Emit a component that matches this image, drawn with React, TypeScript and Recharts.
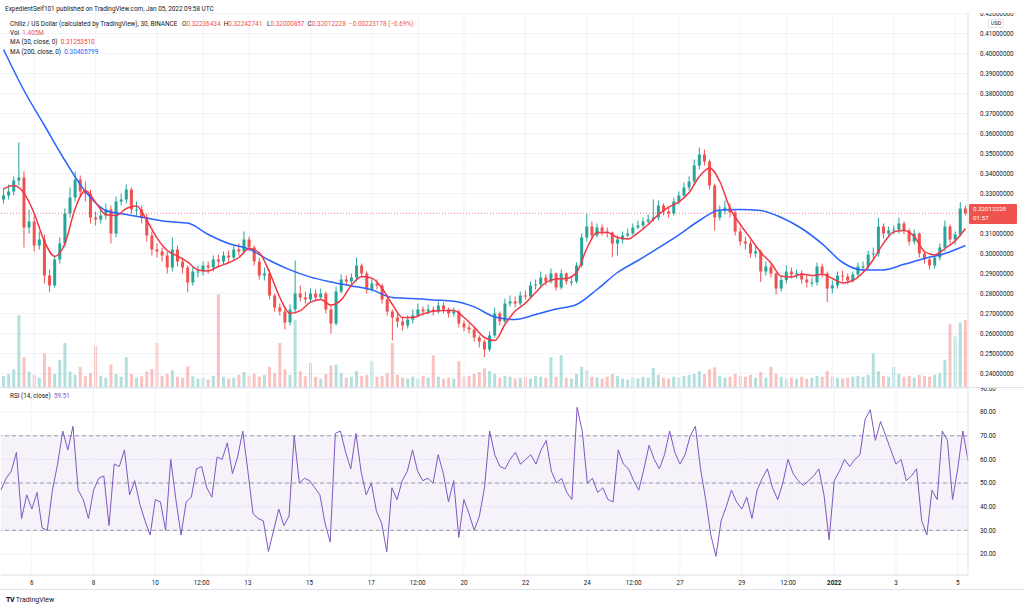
import { ComposedChart, Bar, Line, XAxis, YAxis, CartesianGrid, ReferenceLine, ReferenceArea } from 'recharts';

const FONT = 'Roboto, "Noto Sans", sans-serif';
const UP = '#26a69a';
const DOWN = '#ef5350';
const GRID = '#f0f3fa';
const BORDER = '#e0e3eb';
const TEXT = '#131722';
const MA30_COLOR = '#f23645';
const MA200_COLOR = '#2962ff';
const RSI_COLOR = '#7e57c2';

// 4h candles, Dec 5 2021 -> Jan 5 2022
const firstOpen = 0.327;
const closes = [
  0.3290, 0.3310, 0.3365, 0.3380, 0.3130, 0.3160, 0.3040, 0.3070, 0.2890, 0.2840, 0.2970, 0.3050,
  0.3200, 0.3280, 0.3370, 0.3310, 0.3300, 0.3180, 0.3170, 0.3190, 0.3220, 0.3100, 0.3260, 0.3270,
  0.3320, 0.3220, 0.3220, 0.3180, 0.3090, 0.3020, 0.3010, 0.2990, 0.2930, 0.3020, 0.2960, 0.2930,
  0.2855, 0.2910, 0.2910, 0.2940, 0.2930, 0.2970, 0.2960, 0.2990, 0.2980, 0.3020, 0.3010, 0.3070,
  0.3030, 0.2960, 0.2890, 0.2900, 0.2790, 0.2730, 0.2710, 0.2655, 0.2720, 0.2800, 0.2780, 0.2770,
  0.2800, 0.2780, 0.2800, 0.2720, 0.2650, 0.2810, 0.2870, 0.2860, 0.2880, 0.2940, 0.2900, 0.2820,
  0.2850, 0.2840, 0.2770, 0.2710, 0.2680, 0.2660, 0.2640, 0.2670, 0.2690, 0.2720, 0.2710, 0.2720,
  0.2710, 0.2740, 0.2720, 0.2700, 0.2710, 0.2650, 0.2630, 0.2620, 0.2580, 0.2560, 0.2520, 0.2590,
  0.2700, 0.2660, 0.2750, 0.2760, 0.2750, 0.2790, 0.2785, 0.2840, 0.2845, 0.2880, 0.2860, 0.2900,
  0.2830, 0.2900, 0.2860, 0.2860, 0.2940, 0.3080, 0.3135, 0.3090, 0.3130, 0.3110, 0.3105, 0.3050,
  0.3070, 0.3090, 0.3100, 0.3130, 0.3140, 0.3160, 0.3170, 0.3180, 0.3240, 0.3210, 0.3200, 0.3260,
  0.3290, 0.3330, 0.3360, 0.3440, 0.3495, 0.3460, 0.3340, 0.3180, 0.3215, 0.3230, 0.3205, 0.3110,
  0.3060, 0.3050, 0.3000, 0.3010, 0.2910, 0.2935, 0.2900, 0.2825, 0.2867, 0.2910, 0.2895, 0.2900,
  0.2870, 0.2855, 0.2855, 0.2935, 0.2900, 0.2825, 0.2840, 0.2890, 0.2885, 0.2865, 0.2895, 0.2935,
  0.2935, 0.2995, 0.3000, 0.3135, 0.3100, 0.3115, 0.3120, 0.3150, 0.3115, 0.3060, 0.3100, 0.3000,
  0.2970, 0.2940, 0.2980, 0.3030, 0.3135, 0.3070, 0.3095, 0.3225, 0.3201,
];
const highs = [
  0.3325, 0.3345, 0.3385, 0.3555, 0.3410, 0.3220, 0.3200, 0.3110, 0.3095, 0.2920, 0.2990, 0.3080,
  0.3225, 0.3330, 0.3410, 0.3390, 0.3360, 0.3320, 0.3210, 0.3230, 0.3250, 0.3240, 0.3285, 0.3300,
  0.3345, 0.3330, 0.3260, 0.3240, 0.3200, 0.3110, 0.3050, 0.3030, 0.3010, 0.3080, 0.3040, 0.2980,
  0.2940, 0.2935, 0.2940, 0.2960, 0.2960, 0.2990, 0.2995, 0.3010, 0.3015, 0.3040, 0.3050, 0.3110,
  0.3085, 0.3040, 0.2980, 0.2930, 0.2920, 0.2800, 0.2750, 0.2730, 0.2745, 0.2965, 0.2840, 0.2810,
  0.2825, 0.2820, 0.2825, 0.2810, 0.2740, 0.2835, 0.2895, 0.2890, 0.2900, 0.2980, 0.2950, 0.2910,
  0.2875, 0.2870, 0.2850, 0.2785, 0.2720, 0.2700, 0.2680, 0.2690, 0.2720, 0.2750, 0.2735, 0.2745,
  0.2735, 0.2760, 0.2755, 0.2730, 0.2730, 0.2720, 0.2665, 0.2650, 0.2630, 0.2590, 0.2570, 0.2610,
  0.2730, 0.2710, 0.2775, 0.2790, 0.2785, 0.2810, 0.2815, 0.2860, 0.2870, 0.2910, 0.2895, 0.2925,
  0.2905, 0.2920, 0.2905, 0.2885, 0.2955, 0.3100, 0.3200, 0.3160, 0.3150, 0.3145, 0.3130, 0.3110,
  0.3090, 0.3110, 0.3125, 0.3150, 0.3165, 0.3180, 0.3195, 0.3270, 0.3265, 0.3250, 0.3230, 0.3280,
  0.3310, 0.3355, 0.3385, 0.3470, 0.3530, 0.3520, 0.3470, 0.3350, 0.3240, 0.3265, 0.3250, 0.3215,
  0.3130, 0.3085, 0.3065, 0.3040, 0.3020, 0.2960, 0.2950, 0.2905, 0.2885, 0.2940, 0.2930, 0.2920,
  0.2915, 0.2890, 0.2880, 0.2955, 0.2950, 0.2910, 0.2865, 0.2910, 0.2915, 0.2900, 0.2910, 0.2955,
  0.2960, 0.3015, 0.3030, 0.3180, 0.3150, 0.3135, 0.3140, 0.3180, 0.3160, 0.3125, 0.3120, 0.3105,
  0.3010, 0.2985, 0.2995, 0.3050, 0.3165, 0.3145, 0.3110, 0.3257, 0.3240,
];
const lows = [
  0.3250, 0.3270, 0.3290, 0.3340, 0.3030, 0.3100, 0.3010, 0.3020, 0.2850, 0.2807, 0.2830, 0.2950,
  0.3030, 0.3180, 0.3260, 0.3280, 0.3260, 0.3150, 0.3140, 0.3150, 0.3170, 0.3050, 0.3080, 0.3240,
  0.3250, 0.3200, 0.3190, 0.3150, 0.3060, 0.2990, 0.2980, 0.2960, 0.2900, 0.2910, 0.2935, 0.2900,
  0.2807, 0.2840, 0.2880, 0.2890, 0.2900, 0.2910, 0.2935, 0.2945, 0.2955, 0.2960, 0.2990, 0.2995,
  0.3010, 0.2940, 0.2870, 0.2865, 0.2770, 0.2710, 0.2690, 0.2620, 0.2640, 0.2700, 0.2760, 0.2750,
  0.2755, 0.2760, 0.2770, 0.2700, 0.2598, 0.2640, 0.2800, 0.2840, 0.2840, 0.2860, 0.2880, 0.2800,
  0.2810, 0.2820, 0.2750, 0.2690, 0.2565, 0.2630, 0.2615, 0.2625, 0.2650, 0.2680, 0.2690, 0.2695,
  0.2690, 0.2700, 0.2700, 0.2680, 0.2685, 0.2630, 0.2610, 0.2600, 0.2560, 0.2530, 0.2482, 0.2510,
  0.2580, 0.2640, 0.2650, 0.2735, 0.2730, 0.2740, 0.2770, 0.2775, 0.2820, 0.2830, 0.2840, 0.2850,
  0.2815, 0.2820, 0.2845, 0.2840, 0.2850, 0.2930, 0.3060, 0.3070, 0.3080, 0.3090, 0.3080, 0.2982,
  0.2990, 0.3050, 0.3080, 0.3090, 0.3120, 0.3125, 0.3150, 0.3160, 0.3165, 0.3190, 0.3180, 0.3190,
  0.3245, 0.3275, 0.3315, 0.3340, 0.3420, 0.3440, 0.3320, 0.3115, 0.3165, 0.3195, 0.3180, 0.3090,
  0.3040, 0.3020, 0.2980, 0.2980, 0.2857, 0.2890, 0.2880, 0.2795, 0.2810, 0.2850, 0.2875, 0.2875,
  0.2850, 0.2830, 0.2835, 0.2840, 0.2880, 0.2757, 0.2800, 0.2825, 0.2860, 0.2845, 0.2855, 0.2880,
  0.2910, 0.2920, 0.2975, 0.2985, 0.3075, 0.3080, 0.3095, 0.3100, 0.3095, 0.3040, 0.3045, 0.2980,
  0.2950, 0.2920, 0.2925, 0.2965, 0.3010, 0.3050, 0.3045, 0.3085, 0.3190,
];
// volume, millions (peak per bucket)
const volumes = [
  2.5, 3.0, 4.0, 15.5, 6.6, 3.5, 2.8, 2.2, 7.4, 4.5, 3.0, 6.0,
  9.6, 3.5, 2.8, 4.5, 2.5, 3.2, 9.0, 2.6, 2.2, 5.0, 3.0, 2.4,
  6.6, 3.0, 2.2, 2.5, 3.5, 4.0, 9.6, 2.6, 3.0, 3.8, 2.4, 2.2,
  4.6, 2.5, 2.0, 2.2, 1.8, 2.6, 20.0, 2.4, 2.0, 2.2, 2.8, 3.4,
  2.6, 3.0, 2.4, 2.8, 4.5, 3.2, 9.6, 4.0, 2.8, 14.5, 3.6, 2.5,
  5.3, 2.4, 2.0, 3.0, 4.8, 5.0, 3.2, 2.2, 2.4, 3.6, 2.6, 2.8,
  5.7, 2.4, 2.6, 3.2, 9.6, 2.8, 2.2, 2.0, 2.4, 2.0, 2.6, 2.2,
  7.0, 2.4, 2.0, 2.2, 2.0, 5.7, 2.4, 2.6, 3.0, 3.4, 4.2, 3.6,
  3.0, 2.2, 2.6, 2.4, 2.0, 2.2, 2.4, 2.0, 2.6, 2.4, 2.2, 6.6,
  2.4, 7.0, 2.2, 2.0, 3.0, 4.5, 3.8, 2.4, 2.2, 2.0, 2.4, 3.0,
  2.6, 2.0, 1.8, 2.2, 2.0, 2.4, 2.2, 4.3, 2.8, 2.2, 2.0, 2.4,
  2.2, 2.6, 2.8, 3.0, 3.6, 3.0, 4.0, 4.4, 2.6, 2.2, 2.4, 3.0,
  2.6, 2.4, 2.8, 2.2, 3.4, 2.2, 4.5, 3.0, 2.4, 2.0, 2.2, 2.0,
  2.4, 2.0, 2.2, 2.6, 2.4, 3.6, 2.4, 2.2, 2.0, 2.2, 2.4, 2.6,
  2.4, 2.8, 7.4, 3.6, 2.6, 2.4, 4.5, 3.0, 2.4, 2.6, 2.2, 2.8,
  2.6, 2.4, 2.8, 3.2, 6.0, 13.6, 11.0, 14.0, 14.5,
];
const rsiValues = [
  47, 52, 55, 63, 35, 45, 39, 46, 31, 30, 47, 58,
  72, 64, 74, 47, 43, 35, 47, 52, 53, 32, 58, 57,
  64, 45, 51, 41, 34, 28, 43, 42, 30, 60, 43, 28,
  42, 44, 56, 57, 48, 44, 61, 60, 67, 54, 61, 72,
  55, 37, 35, 34, 21, 30, 39, 32, 36, 70, 50, 52,
  51, 48, 45, 33, 25, 71, 72, 63, 56, 71, 55, 45,
  50, 38, 33, 21, 48, 43, 51, 55, 64, 55, 51, 52,
  50, 62, 54, 42, 51, 27, 43, 37, 30, 36, 48, 72,
  62, 57, 56, 60, 63, 58, 60, 62, 58, 64, 68, 55,
  50, 52, 46, 43, 82, 72, 50, 52, 46, 48, 43, 42,
  64, 58, 56, 51, 47, 56, 66, 60, 56, 62, 72, 63,
  58, 62, 70, 74, 56, 43, 28, 19, 34, 40, 47, 42,
  39, 44, 35, 47, 52, 56, 48, 43, 50, 60, 54, 51,
  49, 51, 53, 56, 45, 26, 51, 55, 60, 57, 60, 62,
  77, 81, 68, 76, 70, 64, 58, 60, 51, 53, 56, 34,
  28, 47, 43, 72, 68, 43, 56, 72, 59.51,
];
// MA (30) read every 2nd candle
const ma30 = [
  0.3323, 0.3340, 0.3302, 0.3200, 0.3060, 0.2985, 0.3050, 0.3225, 0.3315, 0.3255, 0.3194, 0.3190,
  0.3225, 0.3237, 0.3165, 0.3077, 0.3015, 0.2987, 0.2957, 0.2918, 0.2913, 0.2935, 0.2954, 0.2980,
  0.3025, 0.3003, 0.2905, 0.2780, 0.2700, 0.2714, 0.2757, 0.2770, 0.2742, 0.2768, 0.2842, 0.2885,
  0.2877, 0.2825, 0.2745, 0.2680, 0.2680, 0.2698, 0.2711, 0.2715, 0.2715, 0.2680, 0.2632, 0.2580,
  0.2565, 0.2645, 0.2712, 0.2752, 0.2805, 0.2855, 0.2873, 0.2875, 0.2905, 0.3025, 0.3105, 0.3105,
  0.3080, 0.3073, 0.3103, 0.3145, 0.3195, 0.3232, 0.3258, 0.3305, 0.3385, 0.3428, 0.3360, 0.3225,
  0.3145, 0.3075, 0.3005, 0.2952, 0.2886, 0.2882, 0.2898, 0.2890, 0.2896, 0.2875, 0.2853, 0.2865,
  0.2905, 0.2970, 0.3052, 0.3108, 0.3115, 0.3085, 0.3010, 0.2993, 0.3025, 0.3063, 0.3125,
];
// MA (200) read every 4th candle
const ma200 = [
  0.4020, 0.3815, 0.3640, 0.3465, 0.3310, 0.3215, 0.3195, 0.3177, 0.3160, 0.3152, 0.3095, 0.3050,
  0.3022, 0.2965, 0.2918, 0.2882, 0.2858, 0.2838, 0.2818, 0.2780, 0.2775, 0.2768, 0.2761, 0.2733,
  0.2683, 0.2670, 0.2695, 0.2722, 0.2745, 0.2820, 0.2905, 0.2965, 0.3028, 0.3093, 0.3165, 0.3218,
  0.3220, 0.3215, 0.3180, 0.3125, 0.3048, 0.2955, 0.2917, 0.2918, 0.2946, 0.2975, 0.3000, 0.3040,
];

const timeTickIdx = [6, 18, 30, 39, 48, 60, 72, 81, 90, 102, 114, 123, 132, 144, 153, 162, 174, 186];
const timeTickLabels = ['6', '8', '10', '12:00', '13', '15', '17', '12:00', '20', '22', '24', '12:00', '27', '29', '12:00', '2022', '3', '5'];
// 0.32 sits under the last-price badge, so it has no label of its own
const priceTicks = [0.24, 0.25, 0.26, 0.27, 0.28, 0.29, 0.3, 0.31, 0.33, 0.34, 0.35, 0.36, 0.37, 0.38, 0.39, 0.4, 0.41, 0.42];
const rsiTicks = [20, 30, 40, 50, 60, 70, 80, 90];
const lastPrice = 0.32012228;

const rows = closes.map((close, i) => {
  const open = i === 0 ? firstOpen : closes[i - 1];
  return {
    i,
    open,
    close,
    high: highs[i],
    low: lows[i],
    range: [lows[i], highs[i]],
    vol: volumes[i],
    rsi: rsiValues[i],
    ma30: i % 2 === 0 ? ma30[i / 2] : null,
    ma200: i % 4 === 0 ? ma200[i / 4] : null,
  };
});

const tickLabelOf: Record<number, string> = {};
timeTickIdx.forEach((t, k) => { tickLabelOf[t] = timeTickLabels[k]; });

function Candle(props: any) {
  const { x, y, width, height, payload } = props;
  if (!payload || height == null) return <g />;
  const { open, close, high, low } = payload;
  const k = height / (high - low);
  const top = y + (high - Math.max(open, close)) * k;
  const bh = Math.max(1, Math.abs(close - open) * k);
  const color = close >= open ? UP : DOWN;
  const cx = x + width / 2;
  return (
    <g>
      <line x1={cx} x2={cx} y1={y} y2={y + height} stroke={color} strokeWidth={1} />
      <rect x={x} y={top} width={width} height={bh} fill={color} />
    </g>
  );
}

function VolBar(props: any) {
  const { x, y, width, height, payload } = props;
  if (!payload || !height) return <g />;
  const color = payload.close >= payload.open ? UP : DOWN;
  return <rect x={x} y={y} width={width} height={height} fill={color} fillOpacity={0.35} />;
}

function TimeTick(props: any) {
  const { x, y, payload } = props;
  const label = tickLabelOf[payload.value];
  if (!label) return <g />;
  return (
    <text x={x} y={y + 8} textAnchor="middle" dominantBaseline="central" fontSize={6.3}
      fontFamily={FONT} fill={TEXT} fontWeight={label === '2022' ? 700 : 400}>
      {label}
    </text>
  );
}

const axisTick = { fontSize: 6.3, fill: TEXT, fontFamily: FONT };

function Legend() {
  const row = { position: 'absolute' as const, left: 10, fontSize: 6.4, lineHeight: '10px', color: TEXT, whiteSpace: 'nowrap' as const };
  const red = { color: DOWN };
  return (
    <>
      <div style={{ ...row, left: 5, top: 4 }}>ExpedientSelf101 published on TradingView.com, Jan 05, 2022 09:58 UTC</div>
      <div style={{ ...row, top: 19 }}>
        Chiliz / US Dollar (calculated by TradingView), 30, BINANCE&nbsp;&nbsp;
        O<span style={red}>0.32236434</span>&nbsp;&nbsp;H<span style={red}>0.32242741</span>&nbsp;&nbsp;
        L<span style={red}>0.32000857</span>&nbsp;&nbsp;C<span style={red}>0.32012228&nbsp;&nbsp;−0.00223178 (−0.69%)</span>
      </div>
      <div style={{ ...row, top: 28 }}>Vol&nbsp;&nbsp;<span style={red}>1.405M</span></div>
      <div style={{ ...row, top: 37 }}>MA (30, close, 0)&nbsp;&nbsp;<span style={{ color: MA30_COLOR }}>0.31253510</span></div>
      <div style={{ ...row, top: 47 }}>MA (200, close, 0)&nbsp;&nbsp;<span style={{ color: MA200_COLOR }}>0.30405799</span></div>
      <div style={{ ...row, top: 391 }}>RSI (14, close)&nbsp;&nbsp;<span style={{ color: RSI_COLOR }}>59.51</span></div>
    </>
  );
}

export default function App() {
  return (
    <div style={{ position: 'absolute', left: 0, top: 0, width: 1024, height: 609, background: '#fff', fontFamily: FONT, overflow: 'hidden' }}>
      {/* price pane: grid, axis, volume */}
      <div style={{ position: 'absolute', left: 0, top: 13 }}>
        <ComposedChart width={1024} height={375} data={rows} margin={{ top: 0, right: 0, bottom: 0, left: 1 }}>
          <CartesianGrid yAxisId="price" vertical={false} stroke={GRID} />
          <XAxis dataKey="i" hide />
          <YAxis yAxisId="price" orientation="right" width={56} domain={[0.23275, 0.42025]} allowDataOverflow
            ticks={priceTicks} interval={0} tickFormatter={(v: number) => v.toFixed(8)} tick={axisTick}
            tickLine={false} tickSize={6} tickMargin={6} axisLine={{ stroke: BORDER }} />
          <YAxis yAxisId="vol" hide domain={[0, 80]} allowDataOverflow />
          {timeTickIdx.map((t) => (
            <ReferenceLine key={t} x={t} yAxisId="price" stroke={GRID} />
          ))}
          <Bar yAxisId="vol" dataKey="vol" barSize={3} shape={VolBar} isAnimationActive={false} />
        </ComposedChart>
      </div>
      {/* price pane: candles and moving averages */}
      <div style={{ position: 'absolute', left: 0, top: 13 }}>
        <ComposedChart width={1024} height={375} data={rows} margin={{ top: 0, right: 56, bottom: 0, left: 1 }}>
          <XAxis dataKey="i" hide />
          <YAxis yAxisId="price" hide domain={[0.23275, 0.42025]} allowDataOverflow />
          <ReferenceLine yAxisId="price" y={lastPrice} stroke={DOWN} strokeOpacity={0.7} strokeDasharray="1 2" />
          <Bar yAxisId="price" dataKey="range" barSize={3} shape={Candle} isAnimationActive={false} />
          <Line yAxisId="price" dataKey="ma200" type="monotone" stroke={MA200_COLOR} strokeWidth={1.5}
            dot={false} connectNulls isAnimationActive={false} />
          <Line yAxisId="price" dataKey="ma30" type="monotone" stroke={MA30_COLOR} strokeWidth={1.5}
            dot={false} connectNulls isAnimationActive={false} />
        </ComposedChart>
      </div>
      <div style={{ position: 'absolute', left: 0, top: 387, width: 1024, height: 1, background: BORDER }} />
      {/* RSI pane + time axis */}
      <div style={{ position: 'absolute', left: 0, top: 388 }}>
        <ComposedChart width={1024} height={201} data={rows} margin={{ top: 0, right: 0, bottom: 0, left: 1 }}>
          <CartesianGrid vertical={false} stroke={GRID} />
          <XAxis dataKey="i" height={14} interval={0} tick={TimeTick} tickLine={false} tickSize={0} tickMargin={0}
            axisLine={{ stroke: BORDER }} />
          <YAxis orientation="right" width={56} domain={[11.1, 90.2]} allowDataOverflow ticks={rsiTicks} interval={0}
            tickFormatter={(v: number) => v.toFixed(2)} tick={axisTick} tickLine={false} tickSize={6} tickMargin={6}
            axisLine={{ stroke: BORDER }} />
          {timeTickIdx.map((t) => (
            <ReferenceLine key={t} x={t} stroke={GRID} />
          ))}
          <ReferenceArea y1={30} y2={70} fill={RSI_COLOR} fillOpacity={0.08} stroke="none" />
          {[70, 50, 30].map((v) => (
            <ReferenceLine key={v} y={v} stroke="#787b86" strokeOpacity={0.7} strokeDasharray="4 3" />
          ))}
          <Line dataKey="rsi" type="linear" stroke={RSI_COLOR} strokeWidth={1} dot={false} isAnimationActive={false} />
        </ComposedChart>
      </div>
      <div style={{ position: 'absolute', left: 0, top: 589, width: 1024, height: 1, background: BORDER }} />
      {/* last price badge */}
      <div style={{ position: 'absolute', left: 969, top: 204, width: 48, height: 20, background: DOWN, color: '#fff',
        fontSize: 6.2, lineHeight: '9px', paddingLeft: 4, paddingTop: 1, boxSizing: 'border-box', borderRadius: 1 }}>
        <div>0.32012228</div>
        <div>01:57</div>
      </div>
      {/* currency label */}
      <div style={{ position: 'absolute', left: 988, top: 19, padding: '0 2px', border: `1px solid ${BORDER}`, borderRadius: 2,
        fontSize: 5.5, lineHeight: '7px', color: TEXT, background: '#fff' }}>USD</div>
      <Legend />
      {/* footer */}
      <div style={{ position: 'absolute', left: 6, top: 595, fontSize: 7, lineHeight: '10px', color: TEXT, whiteSpace: 'nowrap' }}>
        <span style={{ fontWeight: 800, letterSpacing: -0.5 }}>TV</span>&nbsp;TradingView
      </div>
    </div>
  );
}
